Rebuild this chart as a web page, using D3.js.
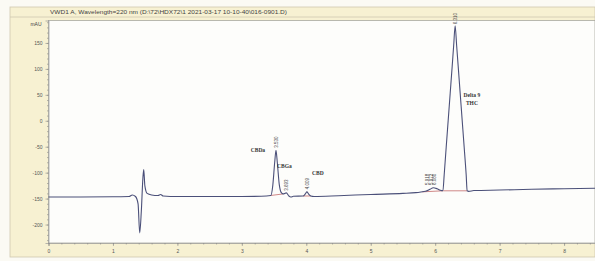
<!DOCTYPE html>
<html><head><meta charset="utf-8">
<script src="https://cdn.jsdelivr.net/npm/d3@7"></script>
<style>
html,body{margin:0;padding:0;background:#fbfaf4;}
svg{display:block;}
</style></head>
<body>
<svg id="c" width="595" height="261"></svg>
<script>
// ---- data (retention time in min, signal in mAU) ----
const traceTime = [0.0,0.5,1.0,1.25,1.30,1.35,1.39,1.415,1.44,1.465,1.478,1.495,1.53,1.6,1.70,1.74,1.78,2.0,2.5,3.0,3.3,3.45,3.48,3.51,3.53,3.55,3.58,3.61,3.64,3.69,3.73,3.76,3.80,3.95,3.985,4.01,4.035,4.07,4.12,4.5,5.0,5.5,5.7,5.85,5.92,5.97,6.03,6.08,6.12,6.14,6.171,6.202,6.233,6.264,6.287,6.310,6.333,6.357,6.388,6.419,6.450,6.481,6.496,6.52,6.6,7.0,7.5,8.0,8.48];
const traceMAU  = [-147,-147,-146.5,-146,-143,-146,-160,-216,-175,-110,-94,-125,-140,-143,-144,-142,-145,-146,-146,-146,-145.5,-144,-125,-80,-57,-80,-122,-138,-141,-139,-145,-147,-145.5,-145,-141,-137,-141,-145,-146,-144.5,-142,-140,-138.5,-136,-132,-129,-131,-134,-135,-104,-51,1,53,105,145,183,145,105,53,1,-51,-104,-135,-136,-134.5,-133.5,-132,-131,-130];
const peakNames = ["CBDa","CBGa","CBD","Delta 9\nTHC"];
const peakNameT = [3.25,3.66,4.18,6.57];
const peakNameV = [-60,-91,-105,45];
const rtLabels = ["3.530","3.693","4.009","5.918","5.972","6.080","6.310"];
const rtT      = [3.53,3.69,4.01,5.885,5.935,5.985,6.31];
const rtV      = [-52,-135,-132,-124,-124,-124,186];
const intBaseT0 = [3.45,3.95,5.80,6.124];
const intBaseT1 = [3.64,4.07,6.12,6.496];
const intBaseV0 = [-144,-145,-137,-135];
const intBaseV1 = [-141,-145,-135,-135];
const yTicks = [150,100,50,0,-50,-100,-150,-200];
const yTickLabels = ["150","100","50","0","-50","-100","-150","-200"];
const xTicks = [0,1,2,3,4,5,6,7,8];
const titleText = "VWD1 A, Wavelength=220 nm (D:\\72\\HDX72\\1 2021-03-17 10-10-40\\016-0901.D)";
const yUnit = "mAU";

// ---- layout ----
const svg = d3.select("#c");
const L = 48.5, R = 595, T = 20.5, B = 243;
const cream = "#f7f1d2";

svg.append("rect").attr("x",10).attr("y",7).attr("width",585).attr("height",250).attr("fill",cream).attr("stroke","#cfc9b0").attr("stroke-width",0.8);
svg.append("line").attr("x1",10).attr("x2",595).attr("y1",17).attr("y2",17).attr("stroke","#cfc9b0").attr("stroke-width",0.8);
svg.append("text").attr("x",50).attr("y",14.3).attr("font-family","Liberation Sans, Arial, sans-serif")
  .attr("font-size",5.5).attr("fill","#444").attr("textLength",237).attr("lengthAdjust","spacingAndGlyphs").text(titleText);
svg.append("rect").attr("x",L).attr("y",T).attr("width",R-L).attr("height",B-T).attr("fill","#fdfdfb").attr("stroke","#a8a8a0").attr("stroke-width",0.8);
svg.append("text").attr("x",36).attr("y",25.5).attr("text-anchor","middle").attr("font-family","Liberation Sans, Arial, sans-serif")
  .attr("font-size",5).attr("fill","#444").text(yUnit);

const x = d3.scaleLinear().domain([0,8.48]).range([L,R]);
const y = d3.scaleLinear().domain([-235.6,193.3]).range([B,T]);

// y axis
svg.append("g").attr("transform",`translate(${L},0)`)
  .call(d3.axisLeft(y).tickValues(yTicks).tickFormat((d,i)=>yTickLabels[i]).tickSize(3).tickPadding(3));
svg.append("g").attr("transform",`translate(${L},0)`)
  .call(d3.axisLeft(y).tickValues(d3.range(-230,191,10)).tickFormat("").tickSize(1.5))
  .call(g=>g.select(".domain").remove());
// x axis
svg.append("g").attr("transform",`translate(0,${B})`)
  .call(d3.axisBottom(x).tickValues(xTicks).tickFormat(d3.format("d")).tickSize(3).tickPadding(3));
svg.append("g").attr("transform",`translate(0,${B})`)
  .call(d3.axisBottom(x).tickValues(d3.range(0,8.5,0.2)).tickFormat("").tickSize(1.5))
  .call(g=>g.select(".domain").remove());
svg.selectAll(".tick line").attr("stroke","#888").attr("stroke-width",0.6);
svg.selectAll(".domain").attr("stroke","#999").attr("stroke-width",0.7);
svg.selectAll(".tick text").attr("font-family","Liberation Sans, Arial, sans-serif").attr("font-size",5).attr("fill","#555");

// integration baselines
svg.append("g").selectAll("line").data(intBaseT0).join("line")
  .attr("x1",(d,i)=>x(d)).attr("x2",(d,i)=>x(intBaseT1[i]))
  .attr("y1",(d,i)=>y(intBaseV0[i])).attr("y2",(d,i)=>y(intBaseV1[i]))
  .attr("stroke","#c46a6a").attr("stroke-width",0.8);

// trace
const pts = traceTime.map((t,i)=>[t,traceMAU[i]]);
const line = d3.line().x(d=>x(d[0])).y(d=>y(d[1])).curve(d3.curveMonotoneX);
svg.append("path").attr("d",line(pts)).attr("fill","none").attr("stroke","#4b5079").attr("stroke-width",1.1);

// peak names
const pg = svg.append("g").attr("font-family","Liberation Serif, Times New Roman, serif").attr("font-weight","bold").attr("font-size",5.5).attr("fill","#333").attr("text-anchor","middle");
peakNames.forEach((n,i)=>{
  n.split("\n").forEach((s,j)=>{
    pg.append("text").attr("x",x(peakNameT[i])).attr("y",y(peakNameV[i])+j*8).text(s);
  });
});
// retention time labels (vertical)
const rg = svg.append("g").attr("font-family","Liberation Sans, Arial, sans-serif").attr("font-size",4.5).attr("fill","#444");
rtLabels.forEach((s,i)=>{
  rg.append("text").attr("transform",`translate(${x(rtT[i])+1.6},${y(rtV[i])}) rotate(-90)`).text(s);
});
</script>
</body></html>
